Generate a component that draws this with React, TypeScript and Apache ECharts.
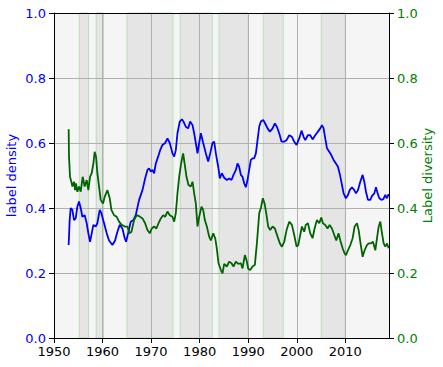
import React, { useEffect, useRef } from "react";
import * as echarts from "echarts";

const densityYears = [
  1953.02, 1953.23, 1953.44, 1953.78, 1954.12, 1954.47, 1954.81, 1955.15, 1955.5, 1955.84,
  1956.32, 1956.74, 1957.08, 1957.42, 1957.77, 1958.11, 1958.59, 1958.93, 1959.42, 1959.76,
  1960.31, 1960.86, 1961.34, 1962.03, 1962.58, 1963.06, 1963.54, 1964.09, 1964.57, 1964.85,
  1965.26, 1965.81, 1966.36, 1966.84,
  1967.53, 1968.22, 1968.77, 1969.25, 1969.59, 1969.94, 1970.28, 1970.62, 1970.97, 1971.45,
  1971.86, 1972.34, 1972.89, 1973.37, 1973.85, 1974.4, 1974.75, 1975.09, 1975.43, 1975.91,
  1976.33, 1976.67, 1977.15, 1977.63, 1978.05, 1978.53, 1978.87, 1979.21, 1979.56, 1979.9,
  1980.25, 1980.73, 1981.28, 1981.76, 1982.17, 1982.65, 1982.99, 1983.34, 1983.82, 1984.16,
  1984.57,
  1985.05, 1985.6, 1986.08, 1986.56, 1986.97, 1987.46, 1987.8, 1988.14, 1988.49, 1988.83,
  1989.17, 1989.52, 1989.86, 1990.2, 1990.55, 1990.89, 1991.24, 1991.58, 1991.92, 1992.27,
  1992.61, 1993.09, 1993.5, 1993.98, 1994.47, 1995.02, 1995.5, 1995.91, 1996.39, 1996.87,
  1997.42, 1997.9, 1998.45, 1999.0, 1999.48, 1999.96, 2000.51, 2000.99, 2001.41,
  2001.75, 2002.3, 2002.78, 2003.26, 2003.81, 2004.36, 2004.84, 2005.19, 2005.53, 2005.87,
  2006.22, 2006.7, 2007.11, 2007.59, 2008.07, 2008.49, 2008.9, 2009.31, 2009.65, 2010.13,
  2010.55, 2010.89, 2011.37, 2011.85, 2012.2, 2012.61, 2013.09, 2013.57, 2013.91, 2014.26,
  2014.67, 2015.15, 2015.5, 2015.98, 2016.32, 2016.66, 2017.01, 2017.42, 2017.83, 2018.24,
  2018.59, 2018.93,
];
const densityValues = [
  0.286, 0.363, 0.4, 0.394, 0.363, 0.368, 0.404, 0.42, 0.4, 0.373,
  0.378, 0.353, 0.322, 0.296, 0.322, 0.348, 0.343, 0.353, 0.394, 0.384,
  0.353, 0.322, 0.3, 0.286, 0.3, 0.327, 0.348, 0.337, 0.307, 0.296,
  0.322, 0.358, 0.363, 0.378,
  0.425, 0.455, 0.491, 0.517, 0.522, 0.512, 0.517, 0.507, 0.537, 0.558,
  0.578, 0.594, 0.6, 0.614, 0.6, 0.568, 0.558, 0.578, 0.63, 0.666,
  0.673, 0.666, 0.65, 0.645, 0.666, 0.655, 0.63, 0.6, 0.568, 0.6,
  0.63, 0.6, 0.568, 0.543, 0.568, 0.6, 0.604, 0.568, 0.527, 0.491,
  0.507,
  0.493, 0.486, 0.491, 0.486, 0.502, 0.517, 0.537, 0.527, 0.502, 0.496,
  0.476, 0.464, 0.486, 0.517, 0.548, 0.553, 0.553, 0.568, 0.609, 0.65,
  0.666, 0.671, 0.66, 0.645, 0.635, 0.645, 0.66, 0.65, 0.63, 0.604,
  0.604, 0.609, 0.624, 0.619, 0.604, 0.594, 0.614, 0.638, 0.619,
  0.609, 0.624, 0.624, 0.611, 0.624, 0.635, 0.645, 0.655, 0.645, 0.614,
  0.584, 0.573, 0.563, 0.548, 0.537, 0.527, 0.502, 0.471, 0.445, 0.43,
  0.44, 0.455, 0.464, 0.455, 0.445, 0.455, 0.481, 0.502, 0.481, 0.45,
  0.425, 0.425, 0.437, 0.445, 0.464, 0.445, 0.43, 0.425, 0.427, 0.44,
  0.43, 0.443,
];

const diversityYears = [
  1953.02, 1953.09, 1953.3, 1953.57, 1953.78, 1954.12, 1954.33, 1954.54, 1954.81, 1955.15,
  1955.5, 1955.91, 1956.32, 1956.74, 1957.08, 1957.42, 1957.77, 1958.11, 1958.38, 1958.66,
  1958.93, 1959.28, 1959.62, 1960.1, 1960.45, 1961.0, 1961.48, 1961.82, 1962.37, 1962.92,
  1963.4, 1963.95, 1964.57, 1965.12, 1965.53, 1965.95, 1966.49, 1967.04,
  1967.53, 1968.22, 1968.77, 1969.25, 1969.73, 1970.14, 1970.62, 1971.1, 1971.52, 1972.0,
  1972.48, 1972.89, 1973.37, 1973.85, 1974.4, 1974.75, 1975.09, 1975.43, 1975.78, 1976.19,
  1976.6, 1976.95, 1977.29, 1977.7, 1978.18, 1978.53, 1978.87, 1979.21, 1979.56, 1979.9,
  1980.38, 1980.73, 1981.07, 1981.48, 1981.96, 1982.31, 1982.79, 1983.2, 1983.48, 1983.89,
  1984.37, 1984.71,
  1985.05, 1985.6, 1986.08, 1986.56, 1986.97, 1987.46, 1987.94, 1988.49, 1988.83, 1989.31,
  1989.65, 1990.0, 1990.41, 1990.89, 1991.37, 1991.79, 1992.27, 1992.61, 1993.02, 1993.37,
  1993.71, 1994.12, 1994.53, 1995.02, 1995.5, 1996.05, 1996.53, 1996.94, 1997.42, 1997.9,
  1998.45, 1999.0, 1999.48, 1999.96, 2000.31, 2000.72, 2001.06, 2001.54,
  2001.85, 2002.3, 2002.78, 2003.26, 2003.67, 2004.16, 2004.64, 2005.05, 2005.39, 2005.87,
  2006.35, 2006.77, 2007.25, 2007.73, 2008.14, 2008.62, 2008.97, 2009.45, 2009.86, 2010.13,
  2010.55, 2011.03, 2011.51, 2011.92, 2012.4, 2012.75, 2013.09, 2013.57, 2013.98, 2014.46,
  2014.81, 2015.29, 2015.7, 2016.18, 2016.53, 2016.87, 2017.21, 2017.56, 2017.9, 2018.24,
  2018.59, 2018.93,
];
const diversityValues = [
  0.642, 0.558, 0.496, 0.481, 0.466, 0.481, 0.455, 0.476, 0.45, 0.466,
  0.45, 0.496, 0.466, 0.486, 0.455, 0.496, 0.507, 0.537, 0.573, 0.558,
  0.507, 0.466, 0.425, 0.414, 0.435, 0.455, 0.43, 0.394, 0.378, 0.373,
  0.358, 0.348, 0.343, 0.343, 0.322, 0.327, 0.363, 0.378,
  0.375, 0.368, 0.353, 0.332, 0.322, 0.337, 0.343, 0.337, 0.353, 0.368,
  0.378, 0.373, 0.389, 0.378, 0.373, 0.358, 0.384, 0.445, 0.496, 0.537,
  0.568, 0.532, 0.496, 0.471, 0.466, 0.481, 0.445, 0.414, 0.343, 0.373,
  0.404, 0.394, 0.363, 0.343, 0.312, 0.3, 0.322, 0.307, 0.281, 0.23,
  0.209, 0.199,
  0.228, 0.22, 0.235, 0.23, 0.22, 0.235, 0.228, 0.23, 0.214, 0.255,
  0.24, 0.214, 0.209, 0.22, 0.225, 0.291, 0.384, 0.4, 0.43, 0.414,
  0.384, 0.343, 0.332, 0.343, 0.337, 0.312, 0.291, 0.281, 0.296, 0.332,
  0.358, 0.348, 0.317, 0.281, 0.286, 0.317, 0.343, 0.327,
  0.348, 0.353, 0.322, 0.307, 0.337, 0.363, 0.353, 0.371, 0.353, 0.348,
  0.337, 0.348, 0.337, 0.317, 0.3, 0.322, 0.3, 0.276, 0.26, 0.255,
  0.27, 0.286, 0.307, 0.343, 0.353, 0.332, 0.296, 0.25, 0.27, 0.286,
  0.291, 0.291, 0.296, 0.27, 0.307, 0.343, 0.358, 0.322, 0.291, 0.281,
  0.291, 0.276,
];

const spanStarts = [1955.2, 1958.7, 1965.05, 1976.0, 1984.0, 1993.1, 2005.05];
const spanEnds = [1957.1, 1960.2, 1974.5, 1982.6, 1990.0, 1997.2, 2010.0];

const xTicks = [1950, 1960, 1970, 1980, 1990, 2000, 2010];

const FONT = "DejaVu Sans";
const BLUE = "#0000ff";
const GREEN_LINE = "#006400";
const GREEN_TEXT = "#008000";

export default function App() {
  const ref = useRef<HTMLDivElement>(null);
  useEffect(() => {
    if (!ref.current) return;
    const chart = echarts.init(ref.current, undefined, { renderer: "svg" });
    const density = densityYears.map((y, i) => [y, densityValues[i]]);
    const diversity = diversityYears.map((y, i) => [y, diversityValues[i]]);
    const spans = spanStarts.map((s, i) => [{ xAxis: s }, { xAxis: spanEnds[i] }]);

    const yAxisCommon = (color: string, position: string, name: string, gap: number, split: boolean) => ({
      type: "value",
      position,
      min: 0,
      max: 1,
      interval: 0.2,
      z: 3,
      name,
      nameLocation: "middle",
      nameRotate: 90,
      nameGap: gap,
      nameMoveOverlap: false,
      nameTextStyle: { color, fontFamily: FONT, fontSize: 13 },
      axisLine: { show: true, lineStyle: { color: "#000", width: 1 } },
      axisTick: { show: true, inside: false, length: 5, lineStyle: { color: "#000", width: 1 } },
      axisLabel: {
        color,
        fontFamily: FONT,
        fontSize: 13,
        margin: 8,
        formatter: (v: number) => v.toFixed(1),
      },
      splitLine: { show: split, lineStyle: { color: "#b0b0b0", width: 1 } },
    });

    chart.setOption({
      animation: false,
      backgroundColor: "#ffffff",
      grid: {
        left: 54,
        top: 13,
        right: 54,
        bottom: 29,
        containLabel: false,
        outerBoundsMode: "none",
        show: true,
        backgroundColor: "#f5f5f5",
        borderWidth: 0,
      },
      xAxis: [
        {
          type: "value",
          min: 1950,
          max: 2019,
          interval: 10,
          z: 3,
          axisLine: { show: true, onZero: false, lineStyle: { color: "#000", width: 1 } },
          axisTick: { show: true, length: 5, customValues: xTicks, lineStyle: { color: "#000", width: 1 } },
          axisLabel: {
            color: "#000",
            fontFamily: FONT,
            fontSize: 13,
            margin: 7,
            customValues: xTicks,
            formatter: (v: number) => (Math.abs(v % 10) < 1e-6 ? String(v) : ""),
          },
          splitLine: { show: true, lineStyle: { color: "#b0b0b0", width: 1 } },
        },
        {
          type: "value",
          position: "top",
          min: 1950,
          max: 2019,
          z: 3,
          axisLine: { show: true, onZero: false, lineStyle: { color: "#000", width: 1 } },
          axisTick: { show: false },
          axisLabel: { show: false },
          splitLine: { show: false },
        },
      ],
      yAxis: [
        yAxisCommon(BLUE, "left", "label density", 36, true),
        yAxisCommon(GREEN_TEXT, "right", "Label diversity", 32, false),
      ],
      series: [
        {
          type: "line",
          data: [],
          xAxisIndex: 0,
          yAxisIndex: 0,
          z: 1,
          silent: true,
          markArea: {
            silent: true,
            z: 1,
            itemStyle: { color: "#e5e5e5", borderColor: "#bcdcbc", borderWidth: 1 },
            data: spans,
          },
        },
        {
          type: "line",
          name: "label density",
          data: density,
          xAxisIndex: 0,
          yAxisIndex: 0,
          z: 5,
          showSymbol: false,
          symbol: "none",
          lineStyle: { color: BLUE, width: 1.8 },
        },
        {
          type: "line",
          name: "Label diversity",
          data: diversity,
          xAxisIndex: 0,
          yAxisIndex: 1,
          z: 5,
          showSymbol: false,
          symbol: "none",
          lineStyle: { color: GREEN_LINE, width: 1.8 },
        },
      ],
    });
    return () => chart.dispose();
  }, []);
  return (
    <div
      ref={ref}
      style={{ position: "fixed", left: 0, top: 0, width: 443, height: 367 }}
    />
  );
}
